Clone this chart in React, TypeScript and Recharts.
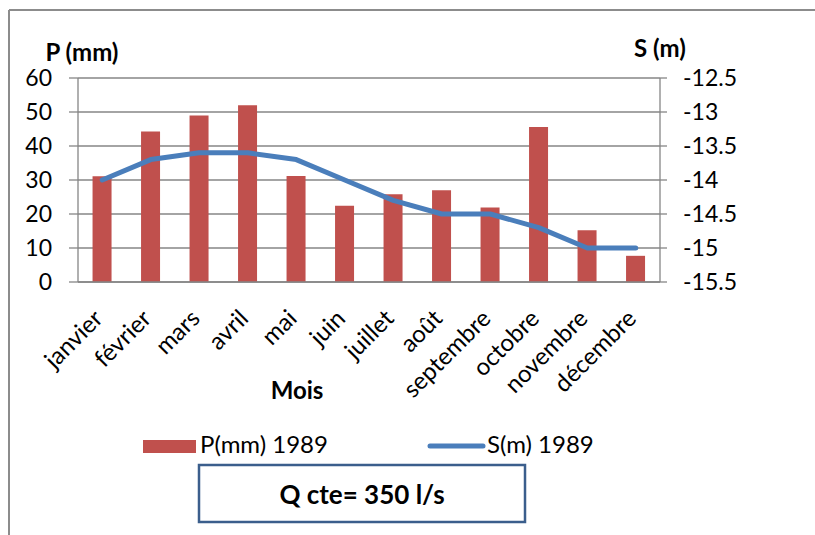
import { ComposedChart, Bar, Line, XAxis, YAxis, CartesianGrid } from 'recharts';

const months = ['janvier', 'février', 'mars', 'avril', 'mai', 'juin', 'juillet', 'août', 'septembre', 'octobre', 'novembre', 'décembre'];
const precipitation = [31.1, 44.3, 49, 52, 31.2, 22.4, 25.8, 27, 21.9, 45.6, 15.2, 7.7];
const drawdown = [-14, -13.7, -13.6, -13.6, -13.7, -14, -14.3, -14.5, -14.5, -14.7, -15, -15];
const pTicks = [0, 10, 20, 30, 40, 50, 60];
const sTicks = [-15.5, -15, -14.5, -14, -13.5, -13, -12.5];
const edgeTicks = [0, 1, 2, 3, 4, 5, 6, 7, 8, 9, 10, 11, 12];

const data = months.map((mois, i) => ({ mois, p: precipitation[i], s: drawdown[i] }));

const GRID = '#868686';
const BAR = '#C0504D';
const LINE = '#4A7EBB';
const FONT = 'Lato, "Open Sans", sans-serif';

const MonthTick = ({ x, y, payload }: any) => {
  const bx = x + 2;
  const by = y + 38;
  return (
    <text x={bx} y={by} transform={`rotate(-45, ${bx}, ${by})`} textAnchor="end" fontSize={24} fontFamily={FONT} fill="#000">
      {payload.value}
    </text>
  );
};

export default function App() {
  const tickStyle = { fontSize: 23, fontFamily: FONT, fill: '#000' };
  return (
    <div style={{ position: 'absolute', left: 0, top: 0, width: 815, height: 535, background: '#fff' }}>
      <ComposedChart width={815} height={535} data={data} margin={{ top: 78, right: 55, bottom: 153, left: 8 }} barCategoryGap="30%">
        <CartesianGrid vertical={false} stroke={GRID} strokeWidth={1.3} yAxisId="p" />
        <XAxis xAxisId="edges" type="number" domain={[0, 12]} ticks={edgeTicks} interval={0} tick={false} tickSize={8} axisLine={false} tickLine={{ stroke: GRID, strokeWidth: 1.3 }} height={0} />
        <XAxis xAxisId="mois" dataKey="mois" height={100} interval={0} axisLine={{ stroke: GRID, strokeWidth: 1.3 }} tickLine={false} tickSize={0} tickMargin={0} tick={<MonthTick />} />
        <YAxis yAxisId="p" orientation="left" width={70} domain={[0, 60]} ticks={pTicks} interval={0} tickSize={9} tickMargin={17} axisLine={{ stroke: GRID, strokeWidth: 1.3 }} tickLine={{ stroke: GRID, strokeWidth: 1.3 }} tick={tickStyle} />
        <YAxis yAxisId="s" orientation="right" width={100} domain={[-15.5, -12.5]} ticks={sTicks} interval={0} tickSize={7} tickMargin={16} axisLine={{ stroke: GRID, strokeWidth: 1.3 }} tickLine={{ stroke: GRID, strokeWidth: 1.3 }} tick={tickStyle} />
        <Bar xAxisId="mois" yAxisId="p" dataKey="p" name="P(mm) 1989" fill={BAR} isAnimationActive={false} />
        <Line xAxisId="mois" yAxisId="s" dataKey="s" name="S(m) 1989" type="linear" stroke={LINE} strokeWidth={5} strokeLinecap="round" strokeLinejoin="round" dot={false} activeDot={false} isAnimationActive={false} />
      </ComposedChart>
      <svg width={815} height={535} style={{ position: 'absolute', left: 0, top: 0, pointerEvents: 'none' }} fontFamily={FONT}>
        {/* chart frame, only top and left edges are visible */}
        <line x1={9} y1={10} x2={815} y2={10} stroke="#8c8c8c" strokeWidth={2} />
        <line x1={9} y1={10} x2={9} y2={535} stroke="#8c8c8c" strokeWidth={2} />
        <text x={82} y={61} textAnchor="middle" fontSize={24} fontWeight="bold" fill="#000">P (mm)</text>
        <text x={660} y={57} textAnchor="middle" fontSize={24} fontWeight="bold" fill="#000">S (m)</text>
        <text x={297} y={399} textAnchor="middle" fontSize={24} fontWeight="bold" fill="#000">Mois</text>
        {/* legend */}
        <rect x={143} y={440} width={53} height={13} fill={BAR} />
        <text x={200} y={453} fontSize={24} fill="#000">P(mm) 1989</text>
        <line x1={430} y1={446} x2={483} y2={446} stroke={LINE} strokeWidth={5} strokeLinecap="round" />
        <text x={487} y={453} fontSize={24} fill="#000">S(m) 1989</text>
        {/* discharge note */}
        <rect x={199} y={465} width={326} height={57} fill="#fff" stroke="#3B5E8C" strokeWidth={2.5} />
        <text x={362} y={504} textAnchor="middle" fontSize={26} fontWeight="bold" fill="#000">Q cte= 350 l/s</text>
      </svg>
    </div>
  );
}
